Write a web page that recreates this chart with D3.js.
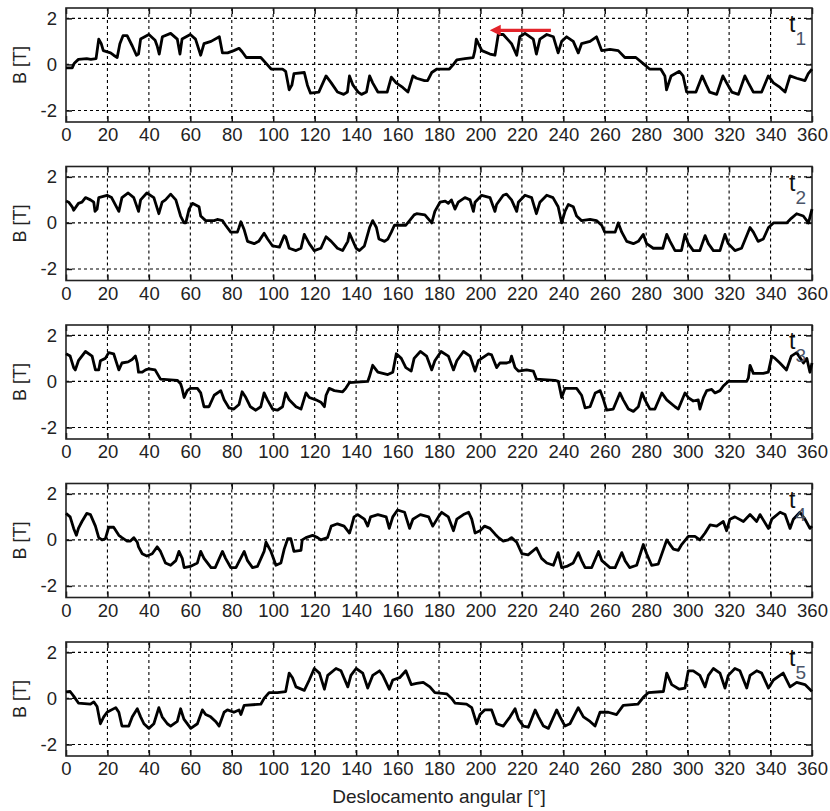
<!DOCTYPE html>
<html><head><meta charset="utf-8">
<script src="https://cdn.jsdelivr.net/npm/d3@7"></script>
<style>body{margin:0;background:#fff}svg{display:block}</style>
</head><body><svg id="c" width="830" height="811"></svg>
<script>
const xTicks = [0,20,40,60,80,100,120,140,160,180,200,220,240,260,280,300,320,340,360];
const yTicks = [-2,0,2];
const panelLabels = ["1","2","3","4","5"];
const yLabel = "B [T]";
const xLabel = "Deslocamento angular [°]";

const t1 = [[0,-0.15],[3,-0.15],[4,0.05],[6,0.22],[10,0.25],[12,0.22],[14.5,0.25],[15.2,0.7],[15.8,1.1],[17,0.9],[18,0.6],[21.5,0.5],[23,0.4],[24.7,0.3],[26,0.9],[27.5,1.25],[29.5,1.25],[32,0.8],[34,0.4],[35,0.45],[36,1.1],[40,1.3],[43,1.05],[44,0.8],[45,0.45],[46.5,1.2],[50.5,1.35],[53.7,1.1],[55,0.45],[56,1.1],[60,1.3],[62.5,1.1],[65,0.4],[66.6,0.9],[70,1.0],[74,1.2],[75.5,0.5],[78,0.5],[81,0.6],[83.5,0.7],[85,0.55],[87,0.3],[94,0.3],[97,0.0],[99,-0.2],[104.5,-0.2],[106,-0.3],[107.7,-1.1],[109,-0.9],[110,-0.4],[115,-0.35],[116.5,-0.9],[118,-1.25],[122,-1.2],[125.5,-0.5],[128,-0.8],[131,-1.2],[134,-1.3],[135.8,-1.2],[136.8,-0.5],[138.5,-0.9],[141,-1.2],[142.6,-1.3],[145,-1.2],[146.5,-0.5],[148,-0.8],[150.5,-1.2],[155,-1.2],[157,-0.55],[159.3,-0.8],[162.5,-1.0],[165,-1.2],[167.4,-0.5],[169.2,-0.6],[173,-0.7],[174.5,-0.7],[176.5,-0.35],[179,-0.2],[185,-0.2],[187,0.0],[188.6,0.2],[192.5,0.25],[196.5,0.3],[197.3,0.6],[198,1.1],[199,0.9],[200.7,0.6],[204.6,0.45],[207,0.4],[208.6,1.3],[211,1.3],[215,0.9],[217.5,0.4],[219,1.2],[221.5,1.35],[225.5,1.1],[227,0.45],[228.7,1.1],[232,1.3],[235.2,1.2],[237.5,0.5],[239.2,1.0],[241.6,1.2],[244.8,1.0],[247.2,0.5],[248.8,0.9],[252.9,1.0],[256,1.2],[258.5,0.6],[262.5,0.65],[266.5,0.6],[269.7,0.3],[275,0.3],[279,0.0],[281.6,-0.2],[287,-0.2],[289,-0.5],[289.8,-1.1],[292,-0.5],[296,-0.3],[297.8,-0.5],[299.5,-1.2],[304,-1.2],[307,-0.5],[309,-0.9],[310.6,-1.2],[314,-1.3],[317,-0.5],[318.8,-0.8],[321.3,-1.2],[324.5,-1.3],[327.6,-0.5],[329.3,-0.8],[331.7,-1.2],[335.7,-1.2],[338.9,-0.5],[341.4,-0.8],[344.6,-1.0],[347,-1.2],[349.4,-0.5],[352.6,-0.6],[356.6,-0.7],[358.2,-0.4],[360,-0.2]];

const t2 = [[0,0.95],[1.3,0.9],[3,0.7],[3.7,0.55],[6,0.85],[7.7,0.9],[9.4,1.1],[11.8,1.0],[13.4,0.9],[14,0.5],[15,0.6],[15.8,1.1],[19.8,1.2],[22,1.1],[25.5,0.5],[27,1.1],[30,1.3],[32.7,1.1],[35,0.5],[36,1.0],[39,1.3],[42.4,1.1],[44.8,0.4],[46.4,0.9],[48,1.0],[50.5,1.25],[53,1.0],[55.3,0.3],[57,0.0],[57.8,0.0],[59.4,0.6],[61,0.85],[64.2,0.7],[65,0.3],[67.4,0.1],[71.5,0.1],[73,0.15],[75.5,0.1],[77,-0.1],[79.5,-0.4],[82.7,-0.4],[83.5,-0.2],[84.4,0.05],[86,-0.3],[87.6,-0.8],[90.8,-0.9],[93,-0.8],[95.6,-0.45],[97.3,-0.7],[99.7,-1.0],[103,-1.05],[105.3,-0.55],[106,-0.6],[107.7,-1.1],[111,-1.2],[113.4,-1.1],[115,-0.5],[117.4,-0.9],[119.8,-1.2],[123,-1.1],[125.5,-0.6],[128,-0.8],[131,-1.1],[133.5,-1.2],[136,-0.8],[136.8,-0.45],[140,-1.1],[141.6,-1.2],[144,-1.0],[146.5,-0.2],[148,0.1],[149.8,-0.2],[151,-0.7],[153.7,-0.8],[155.3,-0.7],[157,-0.4],[158.5,-0.1],[164,-0.1],[165.8,0.1],[168,0.35],[169.2,0.4],[173.2,0.35],[176.5,0.0],[178,0.5],[180.5,0.9],[183,0.95],[184.5,0.85],[186,1.0],[187.7,0.6],[189.3,0.9],[192.5,1.1],[195,1.0],[196.6,0.5],[197.4,0.9],[200.6,1.2],[204.6,1.1],[207,0.5],[207.8,0.8],[211,1.2],[212.6,1.25],[215,1.0],[217.5,0.5],[218.3,0.9],[221.5,1.2],[224.7,1.1],[227,0.4],[228.7,0.9],[232,1.2],[235,1.1],[237.5,0.7],[239.2,0.0],[240.8,0.5],[242.4,0.8],[244.8,0.7],[246.4,0.3],[248.8,0.1],[252.9,0.15],[256,0.1],[258.5,-0.1],[260,-0.4],[265,-0.4],[266.5,0.0],[268.2,-0.4],[270.6,-0.8],[273.8,-0.9],[276.2,-0.8],[278.6,-0.5],[280.2,-0.9],[283.4,-1.1],[288,-1.1],[289.9,-0.5],[291.5,-0.8],[293.9,-1.2],[297,-1.2],[298.7,-0.5],[300.3,-0.9],[302.7,-1.2],[305.9,-1.2],[308.4,-0.55],[310,-0.9],[312.4,-1.2],[315.6,-1.2],[318,-0.5],[319.6,-0.9],[322.8,-1.2],[326,-1.1],[330.1,-0.2],[331.7,-0.4],[334,-0.8],[336.5,-0.7],[339,-0.2],[341.4,0.0],[347.8,0.0],[350,0.2],[352.6,0.4],[355.8,0.3],[358.3,0.0],[360,0.6]];

const t3 = [[0,1.2],[2,1.1],[3.7,0.6],[4.5,0.5],[6,0.9],[8.5,1.2],[9.4,1.3],[12.6,1.1],[14.2,0.5],[15.8,0.5],[16.6,0.9],[19,1.0],[20.6,1.25],[23,1.2],[25.5,0.5],[27,0.8],[30,0.85],[31.9,0.95],[33.5,1.1],[34.4,0.8],[35,0.4],[36.8,0.4],[38.4,0.5],[40,0.55],[43,0.5],[45.6,0.1],[53.7,0.05],[55.3,-0.1],[56,-0.3],[57,-0.7],[58.5,-0.4],[60,-0.3],[63.4,-0.3],[65,-0.5],[66.6,-1.1],[69,-1.1],[71.5,-0.6],[74.7,-0.4],[76.3,-0.8],[78.7,-1.15],[81,-1.2],[83.5,-1.0],[85,-0.45],[86.8,-0.7],[89,-1.1],[91.6,-1.25],[94,-1.1],[95.6,-0.5],[97.2,-0.8],[99.7,-1.2],[102,-1.25],[104.5,-1.1],[106,-0.5],[107.7,-0.8],[111,-1.1],[113.4,-1.2],[115.8,-0.5],[117.4,-0.7],[120.6,-0.8],[123,-0.9],[124.7,-1.1],[125.5,-0.6],[127,-0.3],[129.5,-0.4],[133.5,-0.45],[135,-0.3],[136.8,-0.05],[145.6,0.0],[146.4,0.2],[148,0.7],[150.5,0.4],[155.3,0.3],[157.7,0.4],[159.4,1.2],[161.8,1.0],[164,0.6],[166.6,0.45],[168,1.0],[171,1.3],[174,1.1],[176.5,0.5],[178,0.9],[181,1.3],[184.5,1.1],[187,0.5],[188.6,0.9],[191.8,1.3],[195,1.1],[197.4,0.45],[199,0.9],[203.8,1.2],[205.4,1.15],[207.8,0.6],[209.4,0.8],[212.7,0.8],[214.3,0.85],[215,1.1],[216.7,0.6],[218.3,0.45],[222.3,0.5],[225.5,0.45],[227,0.1],[235.9,0.05],[237.6,0.0],[239.2,-0.7],[240.8,-0.3],[246.4,-0.3],[248.8,-0.6],[250.5,-1.15],[252.9,-1.1],[255.4,-0.5],[257.8,-0.4],[259.4,-0.8],[260.9,-1.25],[264.1,-1.2],[267.3,-0.5],[268.9,-0.8],[271.4,-1.2],[273.8,-1.3],[276.2,-1.1],[278,-0.5],[279.4,-0.8],[281.8,-1.2],[284.2,-1.2],[287.5,-0.5],[289.9,-0.8],[293.9,-1.1],[295.5,-1.2],[298.7,-0.5],[300.3,-0.7],[302.7,-0.85],[305.1,-0.8],[305.9,-1.2],[307.6,-0.7],[309.2,-0.4],[311.6,-0.35],[313.2,-0.5],[315.6,-0.4],[317.2,-0.2],[319.6,0.0],[328.5,0.0],[329.3,0.15],[330.1,0.7],[331.7,0.35],[336.5,0.35],[338.9,0.4],[340.6,1.1],[342.2,1.0],[344.5,0.8],[347.7,0.5],[350,1.1],[352.6,1.25],[355.9,0.8],[357.5,1.0],[359,0.4],[360,0.8]];

const t4 = [[0,1.15],[2,1.0],[3.7,0.5],[5,0.2],[6,0.5],[7.7,0.8],[10,1.15],[11.8,1.1],[14.2,0.6],[15.8,0.1],[17.4,0.0],[19,0.05],[20.6,0.55],[23,0.55],[25.5,0.2],[27,0.1],[29.5,-0.05],[31.1,-0.05],[32.7,0.1],[34.4,-0.1],[35,-0.3],[36.8,-0.6],[39,-0.7],[41.6,-0.6],[44,-0.3],[45.6,-0.5],[48,-1.0],[50.5,-1.1],[53,-0.9],[54.5,-0.5],[56.1,-0.8],[57,-1.2],[60,-1.15],[63.4,-1.0],[65,-0.5],[66.6,-0.8],[70,-1.2],[72,-1.2],[75.5,-0.5],[77,-0.8],[79.5,-1.2],[82,-1.2],[86,-0.5],[87.6,-0.9],[90,-1.2],[92.4,-1.15],[95.6,-0.5],[96.5,-0.1],[98.9,-0.5],[101.3,-1.1],[103.7,-1.0],[105.3,-0.4],[107,0.05],[108.5,0.05],[110,-0.5],[113.4,-0.45],[114,0.0],[115.8,0.1],[119,0.2],[121.4,0.1],[123,0.0],[126.2,0.1],[128,0.6],[131,0.7],[134.2,0.6],[136.8,0.3],[137.5,0.5],[139,1.0],[140.8,1.1],[144,0.9],[145.6,0.6],[147,1.0],[150.5,1.1],[154.5,1.0],[156,0.5],[157.7,1.0],[160,1.3],[163.4,1.2],[165.8,0.5],[167.4,0.9],[169.2,1.0],[171,1.1],[175,1.0],[177,0.6],[179.7,1.0],[181.3,1.2],[184.5,1.0],[187,0.4],[188.6,0.9],[191.8,1.1],[194.3,1.2],[195.8,0.9],[197.4,0.3],[199.8,0.4],[202,0.6],[204.6,0.5],[207.1,0.25],[208.7,0.1],[211,-0.05],[213.4,0.0],[215,0.1],[217.5,-0.1],[220,-0.6],[223,-0.65],[227,-0.35],[229.5,-0.8],[232,-1.0],[235.2,-1.1],[237.5,-0.55],[239.2,-1.2],[241.6,-1.15],[244.8,-1.0],[247.2,-0.55],[248.8,-0.9],[250.5,-1.2],[253.7,-1.2],[257,-0.5],[258.6,-0.9],[262.5,-1.2],[265,-1.2],[268.2,-0.55],[269.8,-0.9],[272,-1.2],[275.4,-1.1],[278.6,-0.2],[280.2,-0.6],[282.6,-1.1],[285.8,-1.05],[289.9,0.0],[293.1,-0.4],[295.5,-0.45],[297.1,-0.2],[300.3,0.15],[303.5,0.15],[305.9,0.0],[308.4,0.3],[310.8,0.65],[314,0.6],[317.2,0.8],[318.8,0.4],[320.4,0.9],[322.8,1.0],[326.9,0.8],[330.1,1.1],[333.3,0.8],[334.9,1.1],[339,0.5],[340.6,0.9],[344.6,1.2],[347,1.1],[349.4,0.5],[351,0.9],[354.2,1.2],[356.6,0.9],[359,0.5],[360,0.6]];

const t5 = [[0,0.28],[2,0.3],[3.7,0.1],[6,-0.2],[11.8,-0.25],[13.4,-0.15],[15,-0.35],[16.6,-1.1],[18.2,-0.8],[19.8,-0.6],[24,-0.4],[25.5,-0.6],[27,-1.2],[30.3,-1.2],[32,-0.8],[34.4,-0.45],[36,-0.8],[37.6,-1.1],[40,-1.3],[42.4,-1.1],[44.8,-0.4],[46.4,-0.8],[48.9,-1.1],[50.5,-1.2],[53.7,-1.0],[55.3,-0.45],[56.9,-0.9],[60.2,-1.3],[63.4,-1.1],[65.8,-0.5],[67.4,-0.7],[69.8,-0.8],[72.2,-1.0],[73.9,-1.2],[76.3,-0.6],[77.9,-0.5],[81,-0.6],[83.5,-0.5],[84.4,-0.7],[86,-0.3],[94,-0.25],[95.6,0.0],[98,0.25],[102,0.25],[106,0.3],[107.7,1.1],[109.3,0.9],[111,0.5],[115,0.35],[117.4,0.8],[119.8,1.3],[122.3,1.1],[124.7,0.4],[126.3,1.0],[130.3,1.3],[132.7,1.2],[136,0.5],[137.5,1.0],[140,1.3],[143.2,1.1],[145.6,0.45],[148,1.0],[151.3,1.2],[152.9,1.0],[156,0.4],[157.7,0.8],[161,0.9],[164,1.2],[166.6,0.6],[169.2,0.65],[172.4,0.7],[175.6,0.5],[178,0.25],[183.7,0.2],[186.1,0.0],[187.7,-0.2],[193.3,-0.25],[195.8,-0.4],[198.2,-1.1],[199.8,-0.7],[202,-0.5],[205.4,-0.5],[207.8,-1.1],[211,-1.2],[214.3,-0.8],[216.7,-0.45],[218.3,-0.9],[220.7,-1.2],[223.1,-1.25],[226.4,-0.5],[228,-0.8],[230.4,-1.2],[232.8,-1.3],[236.8,-0.5],[238.4,-0.8],[240.8,-1.2],[243.2,-1.1],[247.2,-0.4],[249.7,-0.8],[252.9,-1.0],[255.3,-1.2],[257.7,-0.6],[261.7,-0.6],[265.7,-0.7],[268.9,-0.3],[276,-0.25],[278.6,0.05],[281,0.25],[288.3,0.3],[289.9,1.1],[292.3,0.6],[296,0.4],[298.7,0.45],[300.3,1.2],[302.7,1.2],[305.9,1.0],[308.4,0.5],[310,1.0],[312.4,1.3],[315.6,1.1],[318,0.45],[319.6,1.0],[322.8,1.3],[325.2,1.2],[328.5,0.45],[330.1,1.0],[333.3,1.2],[335.7,1.1],[339,0.45],[341.4,0.8],[346.1,1.1],[349.4,0.5],[352.6,0.7],[356.6,0.6],[360,0.3]];

// arrow (panel 1): from angle to angle at a B level
const arrowFrom = 234, arrowTo = 204.5, arrowLevel = 1.48;

const series = [t1,t2,t3,t4,t5];

const svg = d3.select("#c");
svg.append("rect").attr("width",830).attr("height",811).attr("fill","#fff");
const left = 66, right = 812, ph = 114;
const tops = [8,166.5,325,483.5,642];
const font = "Arial, 'Liberation Sans', sans-serif";
const x = d3.scaleLinear().domain([0,360]).range([left,right]);

series.forEach((data,i)=>{
  const top = tops[i];
  const y = d3.scaleLinear().domain([-2.5,2.45]).range([top+ph, top]);
  const g = svg.append("g");
  // grid
  g.append("g").selectAll("line").data(xTicks.slice(1,-1)).join("line")
    .attr("x1",d=>x(d)).attr("x2",d=>x(d)).attr("y1",top).attr("y2",top+ph)
    .attr("stroke","#000").attr("stroke-width",1.1).attr("stroke-dasharray","3,3");
  g.append("g").selectAll("line").data(yTicks).join("line")
    .attr("x1",left).attr("x2",right).attr("y1",d=>y(d)).attr("y2",d=>y(d))
    .attr("stroke","#000").attr("stroke-width",1.1).attr("stroke-dasharray","3,3");
  // axes
  const ax = [
    d3.axisBottom(x).tickValues(xTicks).tickSizeInner(-6).tickSizeOuter(0).tickPadding(6).tickFormat(d=>String(d)),
    d3.axisTop(x).tickValues(xTicks).tickSizeInner(-6).tickSizeOuter(0).tickFormat(""),
    d3.axisLeft(y).tickValues(yTicks).tickSizeInner(-6).tickSizeOuter(0).tickPadding(9).tickFormat(d=>String(d)),
    d3.axisRight(y).tickValues(yTicks).tickSizeInner(-6).tickSizeOuter(0).tickFormat("")
  ];
  const tr = [`translate(0,${top+ph})`,`translate(0,${top})`,`translate(${left},0)`,`translate(${right},0)`];
  ax.forEach((a,k)=>{
    const ag = g.append("g").attr("transform",tr[k]).call(a);
    ag.select(".domain").remove();
    ag.selectAll(".tick line").attr("stroke","#111").attr("stroke-width",1.5);
    ag.selectAll(".tick text").attr("font-family",font).attr("font-size",18.5).attr("fill","#222");
  });
  // frame
  g.append("rect").attr("x",left).attr("y",top).attr("width",right-left).attr("height",ph)
    .attr("fill","none").attr("stroke","#222").attr("stroke-width",1.6);
  // curve
  g.append("path").datum(data)
    .attr("d",d3.line().x(d=>x(d[0])).y(d=>y(d[1])))
    .attr("fill","none").attr("stroke","#000").attr("stroke-width",2.8).attr("stroke-linejoin","round");
  // y label
  g.append("text").attr("transform",`translate(26,${top+ph/2}) rotate(-90)`)
    .attr("text-anchor","middle").attr("font-family",font).attr("font-size",18).attr("fill","#222").text(yLabel);
  // t label
  const tl = g.append("text").attr("x",789).attr("y",top+24).attr("font-family",font).attr("fill","#111");
  tl.append("tspan").attr("font-size",23).text("t");
  tl.append("tspan").attr("font-size",19).attr("dy",13).attr("fill","#4a5468").text(panelLabels[i]);
  if(i===0){
    const ay = y(arrowLevel);
    g.append("line").attr("x1",x(arrowFrom)).attr("x2",x(arrowTo)+8).attr("y1",ay).attr("y2",ay)
      .attr("stroke","#e3242b").attr("stroke-width",3.2);
    g.append("path").attr("d",`M${x(arrowTo)},${ay} L${x(arrowTo)+11},${ay-5.5} L${x(arrowTo)+11},${ay+5.5} Z`)
      .attr("fill","#e3242b");
  }
});
svg.append("text").attr("x",(left+right)/2).attr("y",803).attr("text-anchor","middle")
  .attr("font-family",font).attr("font-size",19).attr("fill","#222").text(xLabel);
</script></body></html>
